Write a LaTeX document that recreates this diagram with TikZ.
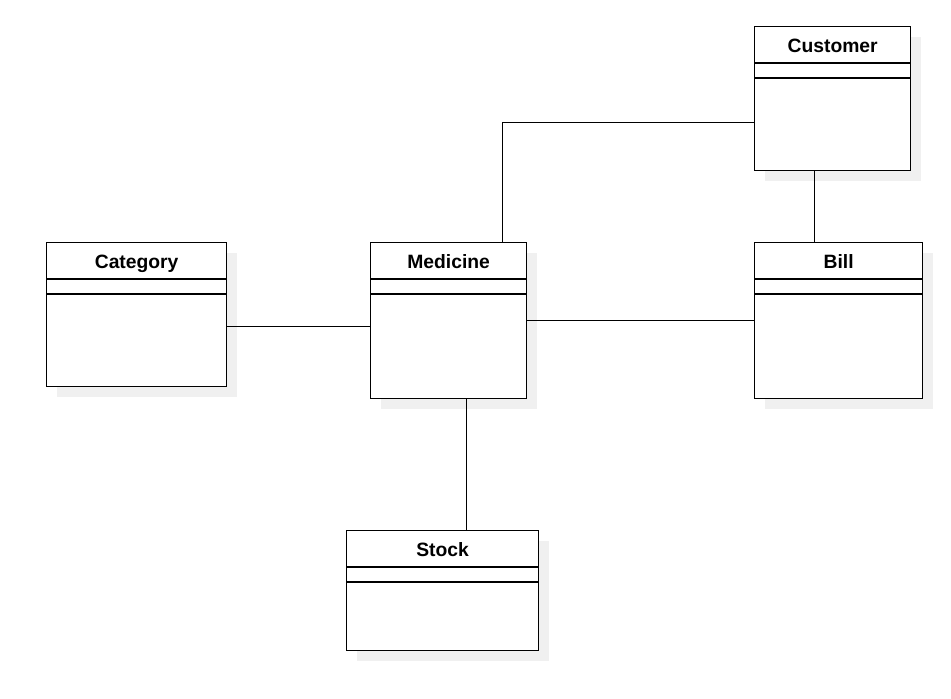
\documentclass[tikz,border=0pt]{standalone}
\usepackage{fontspec}
\setmainfont{Liberation Sans}
\usetikzlibrary{shadows}

\begin{document}
\begin{tikzpicture}[x=1pt,y=-1pt,
    classbox/.style={draw, line width=1.3pt, fill=white, anchor=north west, inner sep=0pt,
      drop shadow={shadow xshift=10pt, shadow yshift=-10pt, fill=black!6, opacity=1}},
    classname/.style={font=\fontsize{19.3}{23}\selectfont\bfseries, inner sep=0pt, anchor=base},
    link/.style={line width=1.3pt}]

    \useasboundingbox (0,0) rectangle (951,699);

    \foreach \n/\x/\y/\w/\h/\t in {cust/754/26/156/144/Customer,
                                   cat/46/242/180/144/Category,
                                   med/370/242/156/156/Medicine,
                                   bill/754/242/168/156/Bill,
                                   stock/346/530/192/120/Stock}
    {
      \node[classbox, minimum width=\w pt, minimum height=\h pt] (\n) at (\x,\y) {};
      \draw[link] ([yshift=-37pt]\n.north west) -- ([yshift=-37pt]\n.north east);
      \draw[link] ([yshift=-52pt]\n.north west) -- ([yshift=-52pt]\n.north east);
      \node[classname] (\n-name) at ([yshift=-26.3pt]\n.north) {\t};
    }

    \draw[link] ([xshift=54pt]med.north) |- ([yshift=-24pt]cust.west);
    \draw[link] ([xshift=-18pt]cust.south) -- ([xshift=-18pt]cust.south |- bill.north);
    \draw[link] ([yshift=-12pt]cat.east) -- ([yshift=-12pt]cat.east -| med.west);
    \draw[link] (med.east) -- (bill.west);
    \draw[link] ([xshift=18pt]med.south) -- ([xshift=18pt]med.south |- stock.north);
  \end{tikzpicture}
\end{document}
